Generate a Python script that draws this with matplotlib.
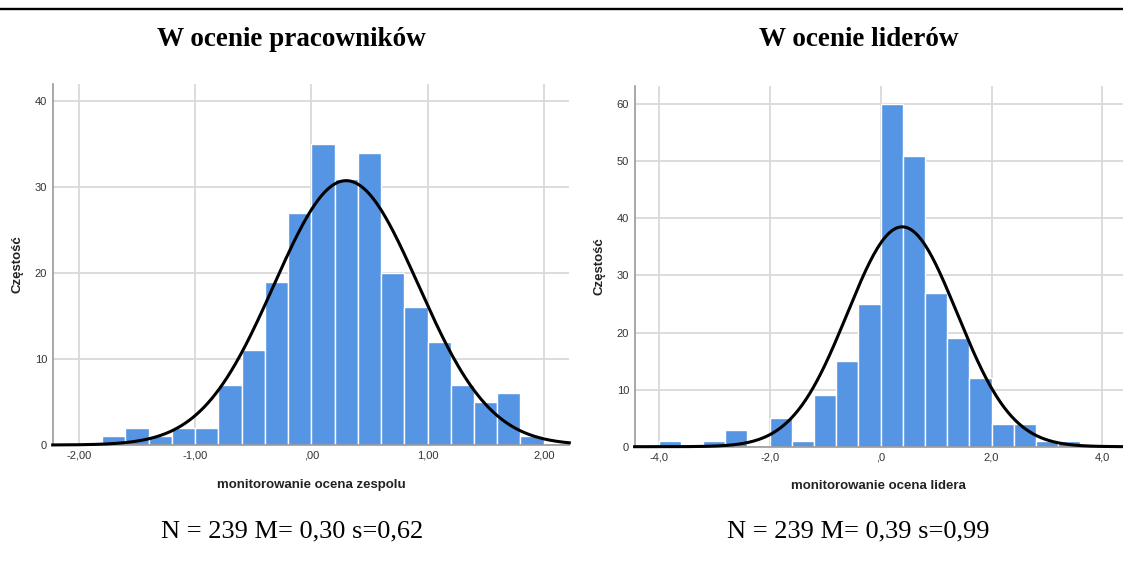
import matplotlib
matplotlib.use("Agg")
import matplotlib.pyplot as plt
import numpy as np
from matplotlib.lines import Line2D

# data
n_obs = 239

emp_edges = np.round(np.arange(-1.8, 2.0001, 0.2), 2)
emp_counts = [1, 2, 1, 2, 2, 7, 11, 19, 27, 35, 31, 34, 20, 16, 12, 7, 5, 6, 1]
emp_mean, emp_sd = 0.30, 0.62
emp_ticks = [-2, -1, 0, 1, 2]
emp_ticklabels = ["-2,00", "-1,00", ",00", "1,00", "2,00"]

lead_edges = np.round(np.arange(-4.0, 3.6001, 0.4), 2)
lead_counts = [1, 0, 1, 3, 0, 5, 1, 9, 15, 25, 60, 51, 27, 19, 12, 4, 4, 1, 1]
lead_mean, lead_sd = 0.39, 0.99
lead_ticks = [-4, -2, 0, 2, 4]
lead_ticklabels = ["-4,0", "-2,0", ",0", "2,0", "4,0"]

bar_color = "#5595e3"
grid_color = "#d9d9d9"
sans = "Liberation Sans"
serif = "Liberation Serif"

fig = plt.figure(figsize=(11.23, 5.63), dpi=100)

# line across the top
fig.add_artist(Line2D([0, 1], [1 - 8.5 / 563, 1 - 8.5 / 563], color="black", lw=1.7))


def panel(rect, edges, counts, mean, sd, xlim, ylim, yticks, xticks, xticklabels, xlabel):
    ax = fig.add_axes(rect)
    bw = edges[1] - edges[0]
    ax.bar(edges[:-1], counts, width=bw, align="edge", color=bar_color,
           edgecolor="white", linewidth=1.0, zorder=2)
    xs = np.linspace(xlim[0], xlim[1], 400)
    ys = n_obs * bw / (sd * np.sqrt(2 * np.pi)) * np.exp(-0.5 * ((xs - mean) / sd) ** 2)
    ax.plot(xs, ys, color="black", lw=2.2, zorder=3, clip_on=False)
    ax.set_xlim(xlim)
    ax.set_ylim(ylim)
    ax.set_xticks(xticks)
    ax.set_xticklabels(xticklabels)
    ax.set_yticks(yticks)
    ax.grid(True, color=grid_color, lw=1.3, zorder=0)
    ax.set_axisbelow(True)
    for s in ["top", "right"]:
        ax.spines[s].set_visible(False)
    ax.spines["left"].set_color("#999999")
    ax.spines["bottom"].set_color("#999999")
    ax.spines["left"].set_linewidth(1.2)
    ax.spines["bottom"].set_linewidth(1.2)
    ax.tick_params(length=0, labelsize=8, labelcolor="#333333", pad=4)
    for lab in ax.get_xticklabels() + ax.get_yticklabels():
        lab.set_fontfamily(sans)
    ax.set_xlabel(xlabel, fontfamily=sans, fontweight="bold", fontsize=9.5,
                  color="#222222", labelpad=13)
    ax.set_ylabel("Częstość", fontfamily=sans, fontweight="bold", fontsize=9.5,
                  color="#222222", labelpad=8)
    return ax


ax1 = panel([52.7 / 1123, 118 / 563, 516.6 / 1123, 361 / 563],
            emp_edges, emp_counts, emp_mean, emp_sd,
            (-2.225, 2.22), (0, 42), [0, 10, 20, 30, 40],
            emp_ticks, emp_ticklabels, "monitorowanie ocena zespolu")

ax2 = panel([634.6 / 1123, 116.3 / 563, (1123 - 634.6) / 1123, 360.7 / 563],
            lead_edges, lead_counts, lead_mean, lead_sd,
            (-4.435, 4.37), (0, 63.2), [0, 10, 20, 30, 40, 50, 60],
            lead_ticks, lead_ticklabels, "monitorowanie ocena lidera")

fig.text(291 / 1123, 1 - 39 / 563, "W ocenie pracowników", ha="center", va="center",
         fontfamily=serif, fontweight="bold", fontsize=19.5)
fig.text(859 / 1123, 1 - 39 / 563, "W ocenie liderów", ha="center", va="center",
         fontfamily=serif, fontweight="bold", fontsize=19.5)

fig.text(292 / 1123, 1 - 531 / 563, "N = 239 M= 0,30 s=0,62", ha="center", va="center",
         fontfamily=serif, fontsize=19)
fig.text(858 / 1123, 1 - 531 / 563, "N = 239 M= 0,39 s=0,99", ha="center", va="center",
         fontfamily=serif, fontsize=19)

fig.savefig("out.png", dpi=100)
